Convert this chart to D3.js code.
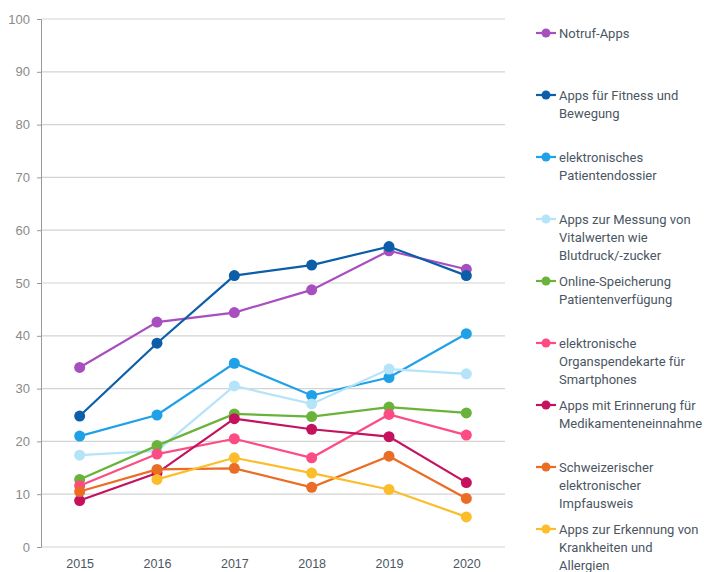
<!DOCTYPE html>
<html>
<head>
<meta charset="utf-8">
<script src="https://cdn.jsdelivr.net/npm/d3@7"></script>
<style>
  body { margin: 0; background: #fff; }
  svg { font-family: "Open Sans", sans-serif; }
</style>
</head>
<body>
<svg id="chart" width="704" height="572"></svg>
<script>
var years = ["2015", "2016", "2017", "2018", "2019", "2020"];
var yTicks = [0, 10, 20, 30, 40, 50, 60, 70, 80, 90, 100];

var names = [
  ["Notruf-Apps"],
  ["Apps für Fitness und", "Bewegung"],
  ["elektronisches", "Patientendossier"],
  ["Apps zur Messung von", "Vitalwerten wie", "Blutdruck/-zucker"],
  ["Online-Speicherung", "Patientenverfügung"],
  ["elektronische", "Organspendekarte für", "Smartphones"],
  ["Apps mit Erinnerung für", "Medikamenteneinnahme"],
  ["Schweizerischer", "elektronischer", "Impfausweis"],
  ["Apps zur Erkennung von", "Krankheiten und", "Allergien"]
];

var notruf     = [34.0, 42.6, 44.4, 48.7, 56.1, 52.6];
var fitness    = [24.8, 38.6, 51.4, 53.4, 56.9, 51.4];
var dossier    = [21.0, 25.0, 34.8, 28.7, 32.1, 40.4];
var vital      = [17.4, 18.2, 30.5, 27.1, 33.7, 32.8];
var speicher   = [12.8, 19.2, 25.2, 24.7, 26.5, 25.4];
var organ      = [11.6, 17.6, 20.5, 16.9, 25.1, 21.2];
var erinnerung = [8.8, 14.0, 24.3, 22.3, 20.9, 12.2];
var impf       = [10.5, 14.7, 14.9, 11.3, 17.2, 9.2];
var erkennung  = [null, 12.8, 16.9, 14.0, 10.9, 5.7];

var colors = ["#a84fc0", "#0c5ea9", "#1fa1e8", "#b5e3f8", "#69b33a",
              "#fd4b83", "#c4125e", "#eb6c24", "#fcbd2b"];

var values = [notruf, fitness, dossier, vital, speicher, organ, erinnerung, impf, erkennung];

var series = names.map(function(n, i) {
  return { name: n, color: colors[i], values: values[i] };
});

var svg = d3.select("#chart");
var plotLeft = 41, plotRight = 505, plotTop = 19, plotBottom = 547;

var x = d3.scalePoint().domain(years).range([plotLeft, plotRight]).padding(0.5);
var y = d3.scaleLinear().domain([0, 100]).range([plotBottom, plotTop]);

// gridlines
svg.append("g").selectAll("line").data(yTicks).enter().append("line")
  .attr("x1", plotLeft).attr("x2", plotRight)
  .attr("y1", y).attr("y2", y)
  .style("stroke", "#d3d3d3").style("stroke-width", 1.2);

// y axis
var yAxis = svg.append("g").attr("transform", "translate(" + plotLeft + ",0)")
  .call(d3.axisLeft(y).tickValues(yTicks).tickSize(4).tickPadding(7));
yAxis.select(".domain").style("stroke", "#999");
yAxis.selectAll(".tick line").style("stroke", "#999");
yAxis.selectAll("text").style("fill", "#8a8a8a").style("font-size", "13px");

// x axis labels
var xAxis = svg.append("g").attr("transform", "translate(0," + plotBottom + ")")
  .call(d3.axisBottom(x).tickSize(0).tickPadding(12));
xAxis.select(".domain").remove();
xAxis.selectAll("text").style("fill", "#4b5663").style("font-size", "12.5px");

var line = d3.line()
  .defined(function(d) { return d != null; })
  .x(function(d, i) { return x(years[i]); })
  .y(function(d) { return y(d); });

var g = svg.selectAll("g.series").data(series).enter().append("g").classed("series", true);

g.append("path")
  .attr("d", function(s) { return line(s.values); })
  .style("fill", "none")
  .style("stroke", function(s) { return s.color; })
  .style("stroke-width", 2.2);

g.selectAll("circle").data(function(s) {
  return s.values.map(function(v, i) { return { v: v, i: i, color: s.color }; })
    .filter(function(d) { return d.v != null; });
}).enter().append("circle")
  .attr("cx", function(d) { return x(years[d.i]); })
  .attr("cy", function(d) { return y(d.v); })
  .attr("r", 5.5)
  .style("fill", function(d) { return d.color; });

// legend
var legend = svg.append("g").selectAll("g").data(series).enter().append("g")
  .attr("transform", function(s, i) { return "translate(536," + (33 + i * 62) + ")"; });

legend.append("line")
  .attr("x1", 0).attr("x2", 20)
  .style("stroke", function(s) { return s.color; })
  .style("stroke-width", 2.2);
legend.append("circle")
  .attr("cx", 10).attr("r", 4.5)
  .style("fill", function(s) { return s.color; });

legend.append("text")
  .attr("x", 23).attr("y", 0)
  .style("fill", "#4b5663").style("font-size", "13px")
  .style("font-family", "Roboto, sans-serif")
  .selectAll("tspan").data(function(s) { return s.name; }).enter().append("tspan")
  .attr("x", 23)
  .attr("dy", function(d, i) { return i === 0 ? "0.35em" : 18; })
  .text(function(d) { return d; });
</script>
</body>
</html>
